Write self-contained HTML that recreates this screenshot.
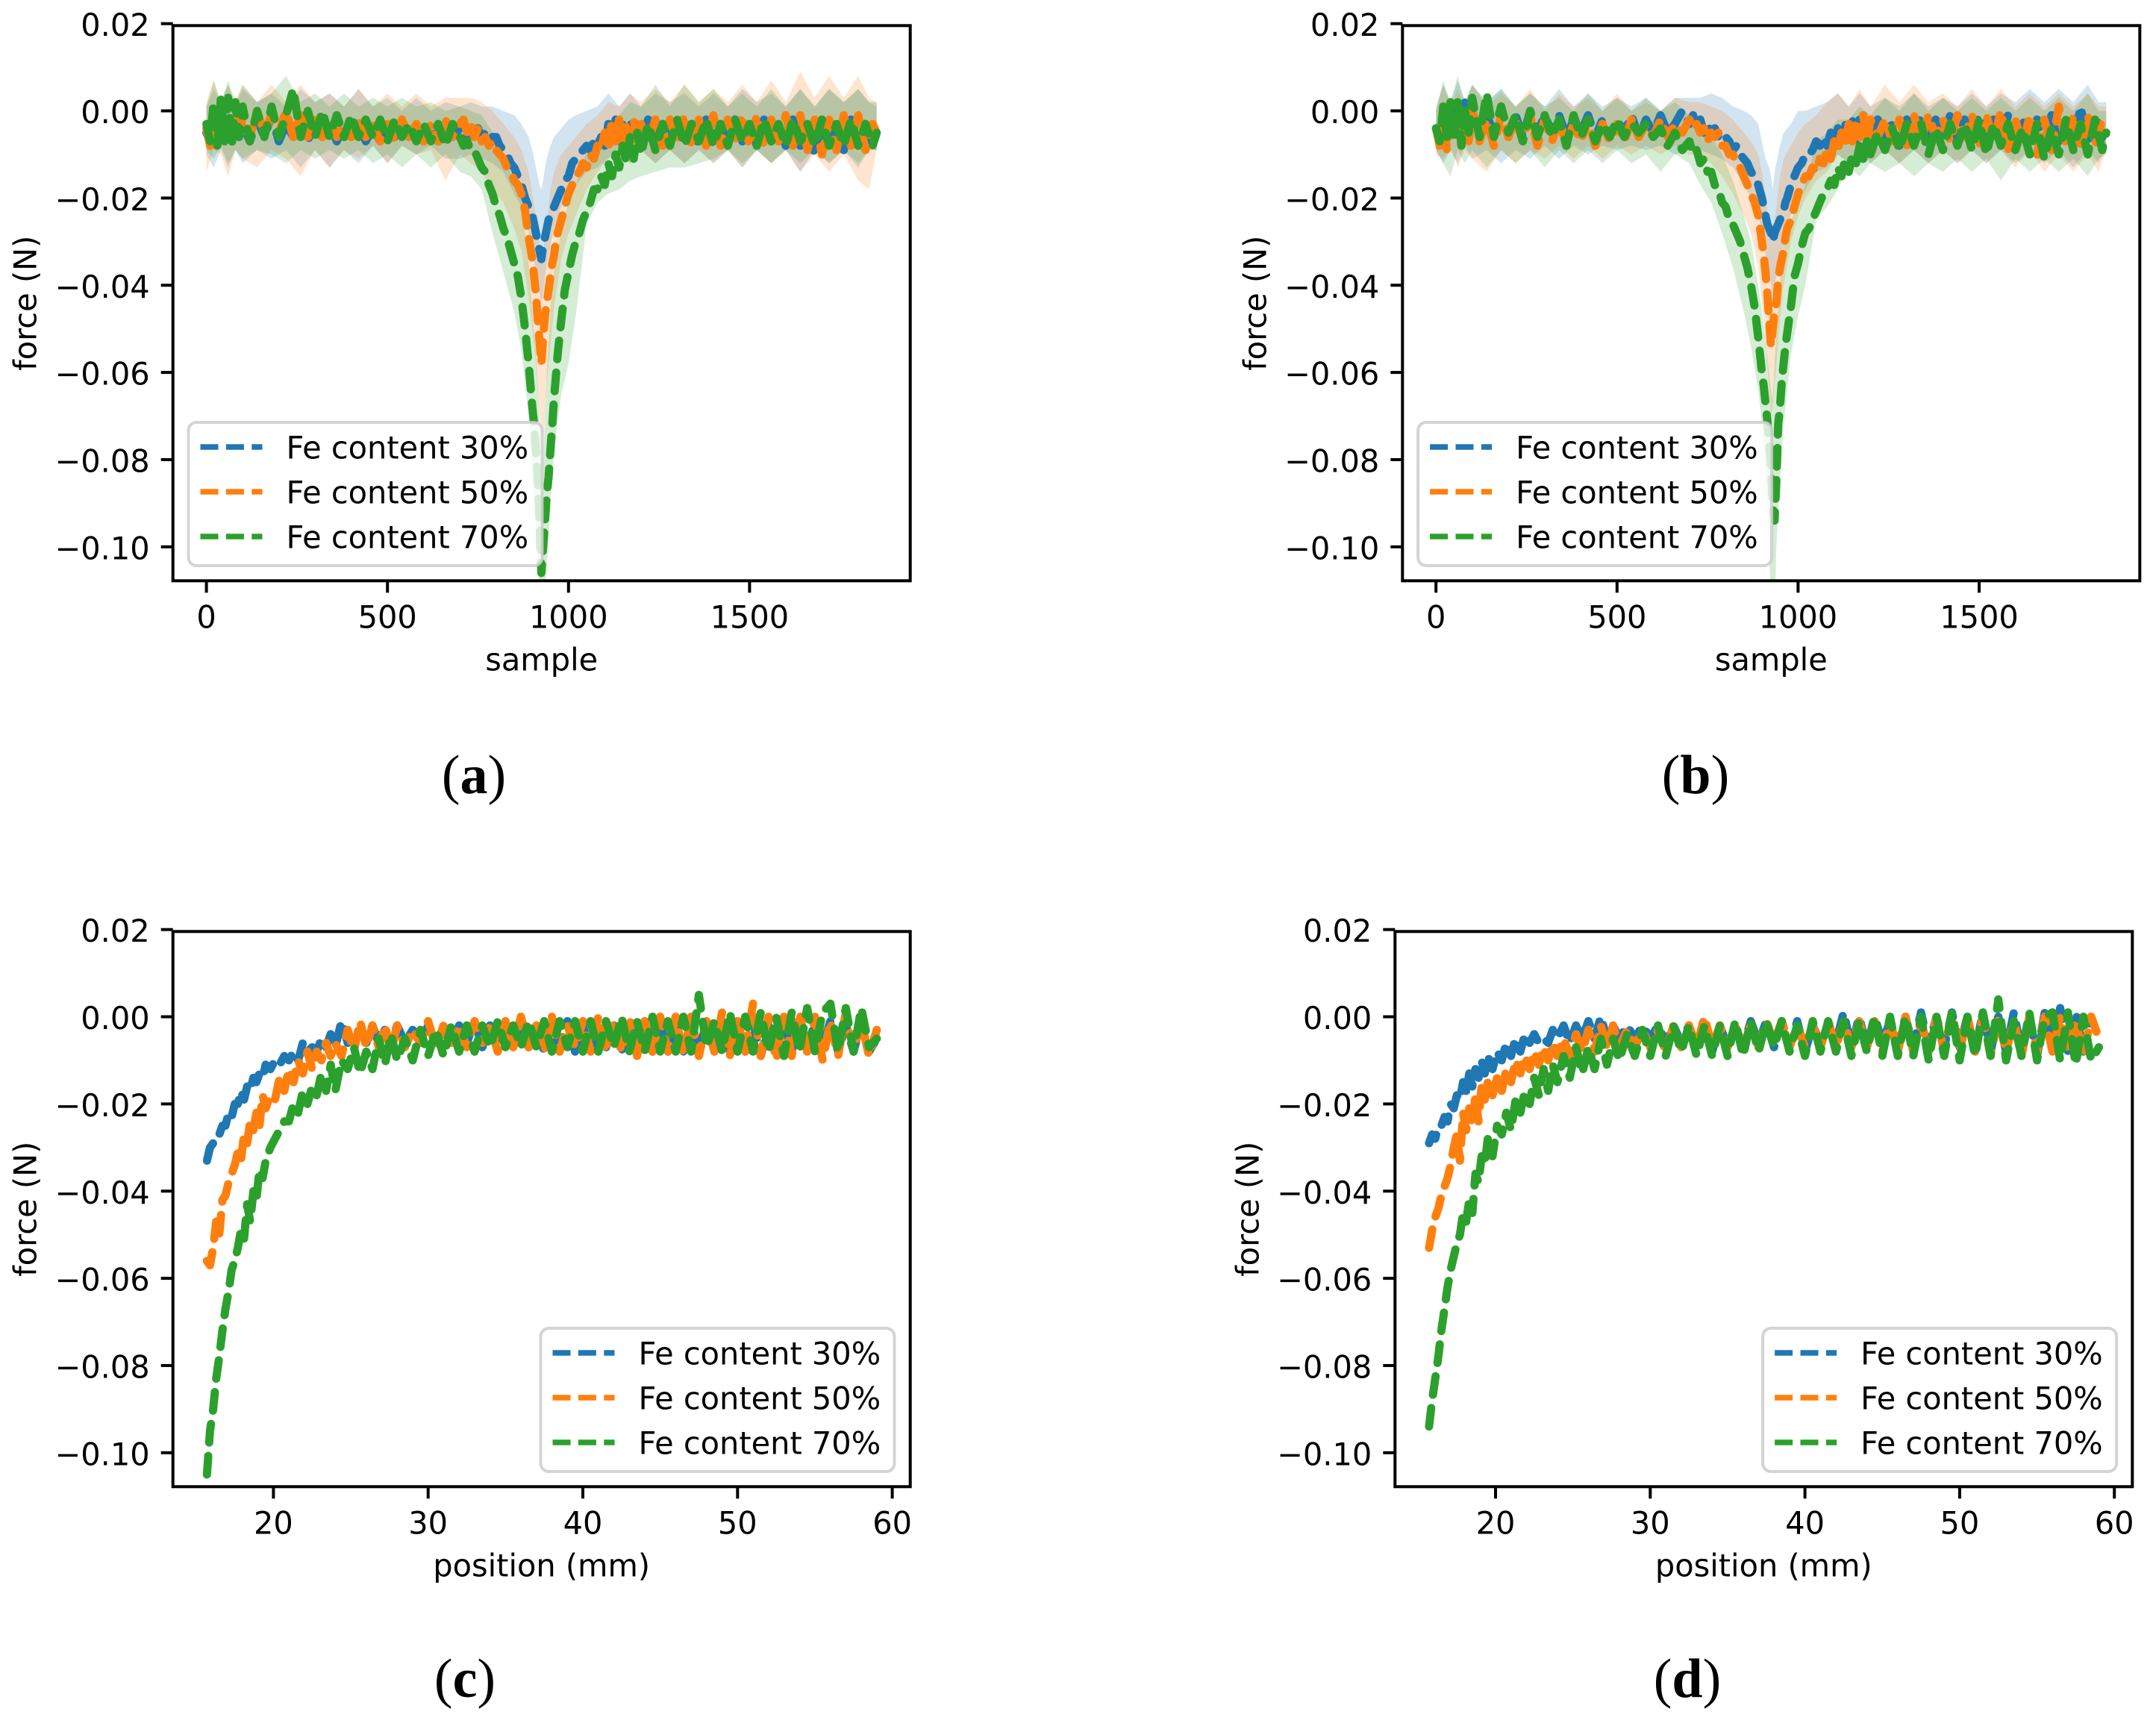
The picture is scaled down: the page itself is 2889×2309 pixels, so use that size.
<!DOCTYPE html>
<html lang="en">
<head>
<meta charset="utf-8">
<title>Force curves for Fe content 30%, 50% and 70%</title>
<style>
html,body{margin:0;padding:0;background:#fff;}
svg{display:block;}
text{font-family:"DejaVu Sans",sans-serif;font-size:41.5px;fill:#000;}
.cap{font-family:"Liberation Serif",serif;font-size:74px;text-anchor:middle;}
.cap tspan{font-weight:bold;}
.mid{text-anchor:middle;}
</style>
</head>
<body>
<svg id="fig" xmlns="http://www.w3.org/2000/svg" width="2889" height="2309" viewBox="0 0 2889 2309">
  <rect width="2889" height="2309" fill="#fff"/>
  <g id="panel-a"></g>
  <g id="panel-b"></g>
  <g id="panel-c"></g>
  <g id="panel-d"></g>
  <text class="cap" x="635" y="1063">(<tspan>a</tspan>)</text>
  <text class="cap" x="2272" y="1063">(<tspan>b</tspan>)</text>
  <text class="cap" x="623" y="2274">(<tspan>c</tspan>)</text>
  <text class="cap" x="2261" y="2274">(<tspan>d</tspan>)</text>
</svg>
<script>
/* all force values are in millinewtons (0.001 N) */
const seriesLabels = ['Fe content 30%', 'Fe content 50%', 'Fe content 70%'];
const seriesColors = ['#1f77b4', '#ff7f0e', '#2ca02c'];
const yTicks = [20, 0, -20, -40, -60, -80, -100];
const yTickLabels = ['0.02', '0.00', '\u22120.02', '\u22120.04', '\u22120.06', '\u22120.08', '\u22120.10'];
const sampleTicks = [0, 500, 1000, 1500];
const sampleTickLabels = ['0', '500', '1000', '1500'];
const positionTicks = [20, 30, 40, 50, 60];
const positionTickLabels = ['20', '30', '40', '50', '60'];

const samples = [0,10,20,30,40,50,60,70,80,90,
100,120,140,160,180,200,220,240,260,280,
300,320,340,360,380,400,420,440,460,480,
500,520,540,560,580,600,620,640,660,680,
700,710,720,730,740,750,760,770,780,790,
800,810,820,830,840,850,860,870,880,890,
900,905,910,915,920,925,930,935,940,945,
950,955,960,965,970,980,990,1000,1010,1020,
1030,1040,1050,1060,1070,1080,1090,1100,1110,1120,
1130,1140,1150,1160,1170,1180,1190,1200,1220,1240,
1260,1280,1300,1320,1340,1360,1380,1400,1420,1440,
1460,1480,1500,1520,1540,1560,1580,1600,1620,1640,
1660,1680,1700,1720,1740,1760,1780,1800,1820,1840,
1851];

const bandSamples = [0,20,40,60,80,100,140,180,220,260,
300,340,380,420,460,500,540,580,620,660,
700,730,760,790,820,850,870,890,900,910,
920,925,930,935,940,950,960,980,1000,1020,
1050,1080,1110,1140,1170,1200,1240,1280,1320,1360,
1400,1440,1480,1520,1560,1600,1640,1680,1720,1760,
1800,1830,1851];

const positions = [15.7,15.9,16.1,16.3,16.5,16.7,16.9,17.1,17.3,17.5,
17.7,17.9,18.1,18.3,18.5,18.7,18.9,19.1,19.3,19.5,
19.8,20.1,20.4,20.7,21,21.3,21.6,21.9,22.2,22.5,
22.8,23.1,23.4,23.7,24,24.4,24.8,25.2,25.6,26,
26.4,26.8,27.2,27.6,28,28.5,29,29.5,30,30.5,
31,31.5,32,32.5,33,33.5,34,34.5,35,35.5,
36,36.5,37,37.5,38,38.5,39,39.5,40,40.5,
41,41.5,42,42.5,43,43.5,44,44.5,45,45.5,
46,46.5,47,47.5,48,48.5,49,49.5,50,50.5,
51,51.5,52,52.5,53,53.5,54,54.5,55,55.5,
56,56.5,57,57.5,58,58.5,59];

/* panel a */
const aBlue = [-5,-7,-2,-7,-1,-6,-3,-7,-2,-6,
-3,-7,-2,-6,-1,-7,-3,-6,-1,-7,
-2,-6,-3,-7,-3,-6,-3,-7,-4,-7,
-3,-6,-3,-6,-4,-7,-3,-7,-4,-6,
-4,-3,-6,-4,-7,-4,-6,-5,-7,-6,
-6,-8,-9,-10,-12,-13,-15,-17,-20,-22,
-24,-26,-28,-30,-32,-34,-31,-29,-27,-25,
-24,-23,-22,-21,-20,-18,-16,-15,-12,-11,
-10,-9,-8,-9,-7,-8,-6,-8,-3,-7,
-2,-7,-3,-7,-2,-6,-3,-7,-2,-7,
-3,-7,-1,-6,-3,-8,-2,-7,-3,-8,
-2,-7,-3,-8,-2,-7,-3,-8,-2,-8,
-3,-10,-2,-9,-3,-9,-2,-8,-3,-8,
-5];
const aOrange = [-4,-8,-1,-7,-2,-8,-1,-6,-2,-7,
-1,-6,0,-5,-1,-5,0,-6,-1,-6,
-2,-6,-2,-6,-3,-6,-2,-6,-3,-7,
-3,-7,-2,-6,-3,-7,-3,-7,-2,-6,
-3,-2,-5,-3,-6,-4,-7,-6,-8,-7,
-9,-10,-11,-13,-14,-16,-17,-19,-23,-29,
-34,-38,-42,-48,-53,-58,-52,-47,-44,-41,
-38,-35,-33,-30,-28,-25,-22,-19,-17,-15,
-14,-12,-13,-10,-11,-8,-9,-5,-9,-2,
-7,-2,-8,-3,-7,-2,-7,-3,-7,-2,
-8,-2,-7,-1,-8,-2,-8,-1,-8,-2,
-7,-1,-8,-1,-8,-2,-7,-1,-8,-1,
-9,-2,-10,-2,-9,-1,-8,-1,-9,-3,
-5];
const aGreen = [-3,-7,2,-8,3,-7,3,-8,2,-6,
1,-7,0,-6,1,-6,-1,5,-6,0,
-6,0,-6,-1,-6,-1,-6,-2,-6,-2,
-7,-2,-6,-3,-7,-3,-7,-3,-8,-3,
-6,-8,-7,-9,-9,-11,-13,-14,-17,-19,
-22,-24,-27,-29,-32,-35,-38,-43,-50,-58,
-68,-72,-78,-84,-95,-106,-100,-94,-88,-84,
-78,-72,-66,-61,-56,-48,-41,-37,-33,-30,
-28,-25,-23,-21,-18,-18,-15,-17,-12,-15,
-10,-13,-8,-12,-6,-11,-5,-10,-3,-9,
-3,-8,-2,-8,-3,-7,-2,-8,-3,-8,
-2,-7,-3,-8,-2,-7,-3,-8,-2,-7,
-3,-8,-2,-8,-3,-8,-2,-8,-3,-8,
-5];
const aBlueUpper = [1,5,2,6,1,5,2,4,1,5,
2,4,1,5,1,3,0,3,0,2,
1,2,1,1,0,-1,-3,-6,-9,-13,
-17,-18,-16,-13,-11,-8,-6,-4,-2,-1,
0,1,4,1,4,1,4,2,4,1,
4,1,5,2,4,1,5,1,5,2,
5,2,2];
const aBlueLower = [-10,-13,-9,-13,-9,-12,-9,-11,-9,-13,
-9,-13,-9,-12,-8,-12,-8,-10,-8,-11,
-11,-10,-11,-12,-14,-19,-22,-28,-32,-37,
-42,-44,-42,-38,-35,-31,-27,-22,-19,-17,
-14,-13,-11,-9,-12,-9,-12,-9,-12,-9,
-12,-9,-13,-9,-12,-9,-14,-9,-12,-9,
-13,-9,-9];
const aOrangeUpper = [2,7,2,6,2,6,2,6,2,6,
2,4,1,5,1,4,1,4,1,3,
3,3,2,0,-3,-6,-9,-14,-19,-24,
-31,-34,-33,-28,-26,-18,-14,-10,-8,-6,
-3,-1,2,1,4,2,5,2,6,2,
5,2,6,2,7,2,9,3,8,3,
8,3,2];
const aOrangeLower = [-14,-9,-10,-15,-9,-11,-13,-9,-11,-15,
-9,-13,-9,-11,-8,-12,-8,-10,-9,-16,
-10,-12,-14,-18,-21,-27,-32,-43,-50,-58,
-69,-74,-76,-70,-62,-54,-45,-34,-28,-24,
-18,-14,-11,-9,-12,-9,-12,-9,-12,-9,
-12,-9,-13,-9,-12,-9,-14,-10,-14,-10,
-16,-18,-9];
const aGreenUpper = [1,7,2,7,2,6,2,4,8,2,
4,1,4,1,3,1,3,1,2,0,
1,0,-1,-5,-10,-16,-20,-35,-46,-55,
-70,-78,-80,-70,-60,-45,-37,-27,-21,-17,
-9,-6,-3,-1,2,1,6,1,6,2,
5,1,4,1,5,1,5,1,5,2,
5,2,1];
const aGreenLower = [-9,-11,-8,-12,-9,-11,-9,-10,-12,-9,
-11,-9,-11,-9,-12,-10,-13,-10,-13,-10,
-14,-15,-18,-28,-37,-46,-55,-70,-84,-95,
-110,-112,-112,-110,-105,-90,-78,-65,-58,-47,
-26,-21,-19,-18,-16,-15,-14,-13,-13,-12,
-11,-9,-12,-9,-12,-9,-12,-9,-12,-9,
-12,-9,-9];

/* panel b */
const bBlue = [-4,-6,0,-5,2,-5,1,-6,2,-5,
0,-6,-1,-5,1,-6,-1,-6,0,-5,
-1,-5,-1,-6,-2,-5,-1,-6,-2,-6,
-2,-5,-1,-6,-2,-5,-1,-5,-3,0,
-3,-1,-4,-2,-5,-3,-5,-4,-6,-5,
-6,-7,-9,-8,-10,-11,-12,-14,-15,-17,
-20,-22,-24,-26,-27,-28,-30,-28,-27,-26,
-25,-24,-23,-21,-20,-17,-15,-13,-12,-10,
-10,-9,-7,-8,-6,-8,-5,-7,-4,-6,
-3,-6,-2,-7,-2,-6,-3,-7,-2,-6,
-3,-8,-2,-7,-1,-6,-2,-7,-1,-7,
-2,-7,-1,-6,-2,-7,-1,-6,-2,-7,
-2,-8,-1,-7,-2,-8,1,-7,-1,-6,
-3];
const bOrange = [-4,-8,-1,-9,0,-7,-1,-8,-2,-7,
0,-7,-2,-8,-1,-6,-2,-7,-1,-8,
-2,-7,-2,-8,-3,-7,-2,-8,-3,-7,
-3,-7,-2,-6,-3,-6,-2,-6,-3,-5,
-2,-4,-3,-5,-4,-7,-5,-6,-5,-8,
-8,-10,-10,-12,-13,-15,-17,-19,-21,-24,
-30,-33,-37,-42,-48,-54,-50,-46,-44,-39,
-36,-34,-32,-29,-27,-25,-22,-19,-17,-15,
-15,-13,-14,-11,-12,-9,-11,-7,-9,-5,
-8,-3,-7,-2,-6,-1,-7,-2,-6,-2,
-7,-2,-8,-1,-7,-1,-6,-2,-7,-1,
-6,-1,-8,-1,-7,0,-9,-2,-8,-1,
-10,-2,-9,1,-8,-1,-9,-1,-8,-2,
-3];
const bGreen = [-4,-7,1,-6,2,-7,2,-8,0,-5,
3,-6,4,-6,1,-5,-1,-7,0,-6,
-1,-6,-2,-8,-1,-6,-2,-7,-3,-6,
-2,-6,-3,-5,-3,-6,-4,-8,-5,-9,
-7,-10,-9,-12,-11,-14,-14,-17,-18,-21,
-22,-25,-26,-28,-30,-33,-36,-40,-45,-52,
-60,-63,-67,-71,-76,-82,-90,-94,-85,-72,
-68,-62,-58,-54,-51,-45,-38,-35,-31,-28,
-27,-25,-23,-21,-19,-18,-16,-17,-13,-15,
-11,-14,-10,-12,-8,-11,-7,-10,-5,-9,
-4,-9,-3,-8,-3,-10,-4,-9,-3,-8,
-3,-9,-2,-10,-3,-8,-3,-9,-4,-10,
-3,-11,-4,-10,-2,-9,-3,-10,-2,-9,
-5];
const bBlueUpper = [1,6,2,7,2,6,2,5,1,4,
1,5,1,4,1,3,1,3,0,3,
3,3,4,3,1,0,-1,-3,-7,-11,
-13,-15,-18,-14,-12,-8,-5,-3,0,0,
1,2,4,1,4,1,3,1,4,1,
3,1,4,1,4,2,5,2,5,2,
6,2,2];
const bBlueLower = [-9,-12,-9,-12,-8,-11,-9,-12,-9,-11,
-8,-11,-8,-10,-8,-9,-8,-9,-8,-10,
-9,-9,-10,-11,-13,-17,-20,-24,-28,-33,
-38,-40,-42,-40,-38,-35,-30,-24,-21,-18,
-14,-13,-10,-12,-9,-12,-9,-12,-9,-12,
-9,-12,-9,-12,-9,-12,-9,-12,-9,-13,
-9,-12,-8];
const bOrangeUpper = [0,6,1,5,1,6,1,4,1,5,
0,4,1,3,0,4,0,2,0,3,
2,2,1,0,-2,-5,-7,-10,-14,-19,
-26,-30,-30,-25,-22,-15,-11,-8,-5,-3,
-1,2,4,1,5,1,6,2,6,2,
4,1,5,1,5,1,4,1,4,1,
4,1,1];
const bOrangeLower = [-10,-11,-8,-13,-9,-11,-14,-9,-12,-9,
-11,-8,-11,-8,-11,-8,-10,-8,-10,-8,
-10,-10,-12,-15,-19,-24,-28,-36,-44,-52,
-64,-70,-68,-62,-58,-48,-40,-30,-24,-20,
-16,-14,-10,-12,-9,-12,-9,-12,-9,-12,
-9,-12,-9,-12,-9,-13,-9,-14,-10,-14,
-10,-14,-9];
const bGreenUpper = [0,7,2,8,2,6,2,5,1,4,
1,3,0,4,0,3,0,3,0,2,
-1,-4,-6,-10,-16,-24,-30,-40,-46,-52,
-60,-64,-66,-58,-50,-40,-30,-25,-22,-17,
-7,-5,-2,-2,1,-1,3,0,4,0,
3,0,3,0,3,0,3,0,3,0,
4,0,0];
const bGreenLower = [-9,-12,-15,-9,-12,-9,-13,-9,-12,-9,
-13,-9,-12,-9,-12,-9,-12,-10,-14,-10,
-12,-17,-21,-28,-36,-46,-54,-64,-72,-82,
-100,-112,-125,-115,-100,-85,-72,-56,-47,-40,
-25,-22,-18,-13,-15,-12,-14,-12,-15,-12,
-14,-11,-14,-11,-16,-11,-14,-11,-14,-11,
-15,-11,-10];

/* panel c */
const cBlue = [-33,-30,-29,-27,-27,-25,-25,-22,-23,-20,
-20,-17,-19,-16,-17,-14,-15,-13,-14,-11,
-12,-10,-11,-9,-10,-8,-10,-6,-8,-7,
-8,-5,-7,-4,-7,-1,-6,-5,-3,-6,
-2,-6,-3,-6,-2,-6,-3,-6,-2,-6,
-3,-6,-2,-6,-1,-7,-2,-6,-3,-7,
-3,-7,-2,-8,-2,-7,-1,-8,-2,-8,
-2,-7,-2,-8,-2,-7,-1,-8,-2,-8,
-1,-8,-2,-8,-1,-7,-2,-8,-1,-8,
-1,-9,-2,-8,-1,-8,-1,-8,-1,-7,
-1,-8,-2,-8,-1,-8,-5];
const cOrange = [-56,-57,-53,-47,-50,-42,-41,-38,-36,-34,
-31,-33,-27,-29,-24,-26,-22,-25,-18,-21,
-18,-19,-14,-17,-12,-15,-10,-13,-8,-12,
-8,-10,-6,-9,-6,-9,-3,-8,-1,-7,
-2,-7,-2,-8,-2,-7,-3,-6,-1,-7,
-2,-6,-2,-7,-1,-6,-2,-8,-1,-7,
0,-7,-2,-8,0,-8,-2,-7,-1,-8,
0,-8,-1,-8,0,-9,-1,-8,0,-8,
0,-9,0,-9,-1,-8,1,-9,-1,-8,
3,-9,0,-10,0,-9,1,-8,0,-10,
-1,-9,1,-8,-1,-9,-3];
const cGreen = [-105,-95,-90,-83,-78,-72,-67,-63,-58,-56,
-53,-49,-51,-43,-47,-40,-42,-35,-37,-33,
-30,-28,-26,-24,-24,-20,-22,-17,-20,-16,
-18,-13,-17,-11,-17,-10,-12,-7,-13,-8,
-12,-5,-11,-4,-10,-5,-10,-3,-9,-3,
-9,-2,-8,-2,-8,-2,-7,-1,-7,-2,
-7,-1,-7,-1,-8,-1,-7,-1,-8,-1,
-8,-1,-7,0,-8,-1,-8,0,-8,-1,
-8,0,-8,5,-7,-1,-8,1,-8,0,
-8,1,-8,0,-9,1,-8,2,-8,1,
3,-8,2,-8,2,-7,-5];

/* panel d */
const dBlue = [-29,-27,-28,-25,-25,-23,-24,-20,-21,-18,
-19,-15,-17,-13,-16,-12,-14,-10,-13,-9,
-12,-8,-10,-6,-9,-5,-8,-4,-6,-4,
-6,-5,-6,-3,-5,-2,-6,-2,-5,-1,
-5,0,-5,-2,-5,-2,-5,-2,-5,-2,
-6,-2,-6,-2,-7,-2,-8,-2,-7,-2,
-7,-1,-6,-1,-7,-1,-7,-1,-8,-2,
-6,-2,-6,1,-7,0,-7,0,-6,-1,
-7,0,-7,1,-7,0,-7,1,-7,0,
-8,1,-8,0,-8,1,-8,0,-9,1,
-8,2,-8,1,-8,0,-5];
const dOrange = [-53,-49,-46,-44,-41,-39,-37,-34,-30,-27,
-33,-22,-26,-21,-25,-18,-24,-16,-19,-15,
-18,-14,-17,-12,-15,-10,-13,-9,-12,-8,
-11,-7,-10,-6,-9,-5,-9,-4,-8,-3,
-8,-2,-7,-2,-7,-3,-7,-3,-7,-3,
-8,-2,-7,-2,-7,0,-7,-2,-7,-2,
-7,-2,-7,-1,-6,-1,-7,-2,-7,-2,
-7,-1,-7,-1,-7,-1,-7,-1,-8,-1,
-8,0,-8,-1,-8,0,-8,1,-8,0,
-8,0,-9,0,-8,-1,-9,0,-8,0,
-8,0,-8,-1,-9,0,-5];
const dGreen = [-94,-88,-83,-78,-72,-67,-62,-58,-55,-52,
-50,-45,-47,-42,-45,-36,-38,-32,-34,-28,
-32,-25,-27,-22,-26,-19,-22,-17,-20,-14,
-18,-12,-17,-11,-15,-9,-14,-7,-13,-7,
-12,-5,-11,-5,-10,-4,-9,-3,-9,-2,
-9,-2,-8,-2,-9,-2,-9,-2,-9,-1,
-9,-1,-8,-1,-7,-1,-8,-2,-9,-1,
-8,-1,-8,-1,-9,-1,-8,0,-9,0,
-9,0,-9,0,-10,0,-9,1,-10,0,
-9,1,-9,4,-10,-1,-9,1,-10,0,
1,-10,1,-11,0,-10,-7];

const NS = 'http://www.w3.org/2000/svg';
const yPerMilli = 5.8425;

function make(tag, attrs, parent) {
  const el = document.createElementNS(NS, tag);
  for (const k in attrs) el.setAttribute(k, attrs[k]);
  parent.appendChild(el);
  return el;
}
function sampleAxis(zeroPx) {
  return function (s) { return zeroPx + s * 0.4852; };
}
function positionAxis(twentyPx) {
  return function (p) { return twentyPx + (p - 20) * 20.73; };
}
function forceAxis(zeroPx) {
  return function (v) { return zeroPx - v * yPerMilli; };
}
function linePath(xs, ys, fx, fy) {
  const n = Math.min(xs.length, ys.length);
  let d = '';
  for (let i = 0; i < n; i++) d += (i ? 'L' : 'M') + fx(xs[i]).toFixed(1) + ' ' + fy(ys[i]).toFixed(1);
  return d;
}
function bandPath(xs, up, lo, fx, fy) {
  const n = Math.min(xs.length, up.length, lo.length);
  let d = '';
  for (let i = 0; i < n; i++) d += (i ? 'L' : 'M') + fx(xs[i]).toFixed(1) + ' ' + fy(up[i]).toFixed(1);
  for (let i = n - 1; i >= 0; i--) d += 'L' + fx(xs[i]).toFixed(1) + ' ' + fy(lo[i]).toFixed(1);
  return d + 'Z';
}

function drawPanel(cfg) {
  const g = document.getElementById(cfg.id);
  const fx = cfg.fx, fy = cfg.fy;
  const L = cfg.L, R = cfg.R, T = cfg.T, B = cfg.B;

  const clip = make('clipPath', { id: cfg.id + '-clip' }, g);
  make('rect', { x: L, y: T, width: R - L, height: B - T }, clip);
  const plot = make('g', { 'clip-path': 'url(#' + cfg.id + '-clip)' }, g);
  
  

  if (cfg.bands) {
    cfg.bands.forEach(function (b, i) {
      const band = make('path', { d: bandPath(cfg.bandXs, b[0], b[1], fx, fy), fill: seriesColors[i], 'fill-opacity': 0.2 }, plot);
      
      
    });
  }
  cfg.lines.forEach(function (vals, i) {
    const line = make('path', {
      d: linePath(cfg.xs, vals, fx, fy), fill: 'none', stroke: seriesColors[i],
      'stroke-width': 11, 'stroke-dasharray': '25 18', 'stroke-linecap': 'round', 'stroke-linejoin': 'round'
    }, plot);
    
    
  });

  /* legend */
  const lg = make('g', {}, g);
  
  
  make('rect', { x: cfg.legX, y: cfg.legY, width: 474, height: 192, rx: 11, ry: 11, fill: '#fff', 'fill-opacity': 0.8, stroke: '#ccc', 'stroke-opacity': 0.85, 'stroke-width': 4 }, lg);
  seriesLabels.forEach(function (label, i) {
    const yy = cfg.legY + 33 + i * 60;
    const handle = make('line', { x1: cfg.legX + 16, x2: cfg.legX + 99, y1: yy, y2: yy, stroke: seriesColors[i], 'stroke-width': 7.5, 'stroke-dasharray': '24 10.4' }, lg);
    
    
    const t = make('text', { x: cfg.legX + 131, y: yy + 15.5 }, lg);
    
    
    t.textContent = label;
  });

  /* y ticks */
  yTicks.forEach(function (v, i) {
    const py = fy(v);
    const tick = make('rect', { x: L - 16, y: py - 2, width: 16, height: 4, fill: '#000' }, g);
    
    
    const t = make('text', { x: L - 31, y: py + 16.5, 'text-anchor': 'end' }, g);
    
    
    t.textContent = yTickLabels[i];
  });
  /* x ticks */
  cfg.xTicks.forEach(function (v, i) {
    const px = fx(v);
    const tick = make('rect', { x: px - 2, y: B, width: 4, height: 16, fill: '#000' }, g);
    
    
    const t = make('text', { x: px, y: B + 63, 'text-anchor': 'middle' }, g);
    
    
    t.textContent = cfg.xTickLabels[i];
  });

  /* frame */
  const frame = make('rect', { x: L, y: T, width: R - L, height: B - T, fill: 'none', stroke: '#000', 'stroke-width': 4 }, g);
  
  

  const xl = make('text', { x: (L + R) / 2, y: B + 120, 'text-anchor': 'middle' }, g);
  
  
  xl.textContent = cfg.xTitle;

  const yl = make('text', { transform: 'translate(' + (L - 183) + ' ' + ((T + B) / 2) + ') rotate(-90)', 'text-anchor': 'middle' }, g);
  
  
  yl.textContent = 'force (N)';
}

drawPanel({
  id: 'panel-a', L: 231.7, R: 1219.7, T: 34.3, B: 778.3,
  fx: sampleAxis(276.6), fy: forceAxis(148.55),
  xs: samples, bandXs: bandSamples,
  lines: [aBlue, aOrange, aGreen],
  bands: [[aBlueUpper, aBlueLower], [aOrangeUpper, aOrangeLower], [aGreenUpper, aGreenLower]],
  xTicks: sampleTicks, xTickLabels: sampleTickLabels, xTitle: 'sample',
  legX: 252.5, legY: 566
});
drawPanel({
  id: 'panel-b', L: 1879.3, R: 2867.3, T: 34.3, B: 778.3,
  fx: sampleAxis(1924.2), fy: forceAxis(148.55),
  xs: samples, bandXs: bandSamples,
  lines: [bBlue, bOrange, bGreen],
  bands: [[bBlueUpper, bBlueLower], [bOrangeUpper, bOrangeLower], [bGreenUpper, bGreenLower]],
  xTicks: sampleTicks, xTickLabels: sampleTickLabels, xTitle: 'sample',
  legX: 1900.1, legY: 566
});
drawPanel({
  id: 'panel-c', L: 231.7, R: 1219.7, T: 1248.3, B: 1992.3,
  fx: positionAxis(366.4), fy: forceAxis(1362.55),
  xs: positions,
  lines: [cBlue, cOrange, cGreen],
  xTicks: positionTicks, xTickLabels: positionTickLabels, xTitle: 'position (mm)',
  legX: 724.5, legY: 1780
});
drawPanel({
  id: 'panel-d', L: 1869.3, R: 2857.3, T: 1248.3, B: 1992.3,
  fx: positionAxis(2004), fy: forceAxis(1362.55),
  xs: positions,
  lines: [dBlue, dOrange, dGreen],
  xTicks: positionTicks, xTickLabels: positionTickLabels, xTitle: 'position (mm)',
  legX: 2362.1, legY: 1780
});
</script>
</body>
</html>
